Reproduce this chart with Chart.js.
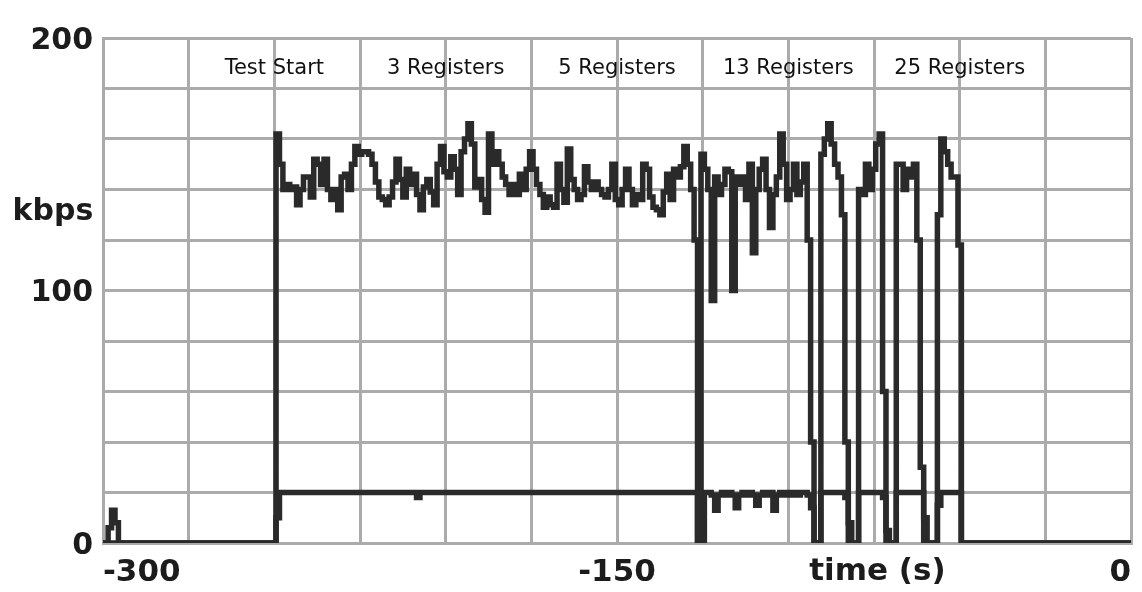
<!DOCTYPE html>
<html>
<head>
<meta charset="utf-8">
<script src="https://cdn.jsdelivr.net/npm/chart.js@4.4.1/dist/chart.umd.min.js"></script>
<style>
  body { margin: 0; background: #ffffff; }
  canvas { display: block; }
</style>
</head>
<body>
<canvas id="traceChart" width="1142" height="592"></canvas>
<script>
  // eixo x: segundos de -300 a 0 (um ponto por segundo)
  const segundos = Array.from({ length: 301 }, (_, i) => i - 300);

  // traco superior (kbps)
  const kbpsSuperior = [
    0, 0, 6, 13, 8, 0, 0, 0, 0, 0, 0, 0, 0, 0, 0, 0, 0, 0, 0, 0,
    0, 0, 0, 0, 0, 0, 0, 0, 0, 0, 0, 0, 0, 0, 0, 0, 0, 0, 0, 0,
    0, 0, 0, 0, 0, 0, 0, 0, 0, 0, 0,
    // -249 .. -188
    162, 150, 140, 142, 140, 141, 134, 140, 145, 145, 137, 152, 150, 142, 152, 140, 136, 140, 132, 145,
    146, 140, 150, 157, 154, 155, 155, 154, 150, 143, 137, 136, 134, 137, 143, 152, 144, 137, 148, 142,
    146, 138, 132, 141, 144, 139, 134, 150, 157, 147, 145, 153, 148, 138, 155, 160, 166, 158, 141, 144,
    136, 131,
    // -187 .. -128
    162, 150, 155, 150, 145, 142, 138, 142, 138, 146, 140, 148, 155, 148, 142, 138, 133, 137, 134, 133,
    150, 140, 135, 156, 144, 140, 136, 138, 149, 143, 140, 143, 140, 138, 137, 140, 150, 136, 134, 140,
    148, 140, 134, 138, 136, 150, 148, 137, 133, 132, 130, 139, 146, 136, 148, 145, 149, 157, 150, 140,
    // -127 .. -49
    120, 0, 154, 148, 140, 96, 145, 138, 142, 148, 147, 100, 145, 142, 145, 136, 150, 115, 140, 148,
    152, 140, 125, 138, 145, 162, 150, 136, 140, 150, 138, 143, 150, 120, 40, 0, 0, 154, 160, 166,
    158, 150, 145, 130, 40, 0, 0, 0, 140, 138, 150, 140, 148, 158, 162, 60, 0, 0, 0, 150,
    150, 140, 148, 145, 150, 120, 30, 0, 0, 0, 0, 130, 160, 155, 150, 145, 145, 118, 0,
    // -48 .. 0
    0, 0, 0, 0, 0, 0, 0, 0, 0, 0, 0, 0, 0, 0, 0, 0, 0, 0, 0, 0,
    0, 0, 0, 0, 0, 0, 0, 0, 0, 0, 0, 0, 0, 0, 0, 0, 0, 0, 0, 0,
    0, 0, 0, 0, 0, 0, 0, 0, 0
  ];

  // traco inferior (kbps)
  const kbpsInferior = [
    0, 0, 0, 0, 0, 0, 0, 0, 0, 0, 0, 0, 0, 0, 0, 0, 0, 0, 0, 0,
    0, 0, 0, 0, 0, 0, 0, 0, 0, 0, 0, 0, 0, 0, 0, 0, 0, 0, 0, 0,
    0, 0, 0, 0, 0, 0, 0, 0, 0, 0, 0,
    // -249
    10,
    // -248 .. -127
    20, 20, 20, 20, 20, 20, 20, 20, 20, 20, 20, 20, 20, 20, 20, 20, 20, 20, 20, 20,
    20, 20, 20, 20, 20, 20, 20, 20, 20, 20, 20, 20, 20, 20, 20, 20, 20, 20, 20, 20,
    18, 20, 20, 20, 20, 20, 20, 20, 20, 20, 20, 20, 20, 20, 20, 20, 20, 20, 20, 20,
    20, 20, 20, 20, 20, 20, 20, 20, 20, 20, 20, 20, 20, 20, 20, 20, 20, 20, 20, 20,
    20, 20, 20, 20, 20, 20, 20, 20, 20, 20, 20, 20, 20, 20, 20, 20, 20, 20, 20, 20,
    20, 20, 20, 20, 20, 20, 20, 20, 20, 20, 20, 20, 20, 20, 20, 20, 20, 20, 20, 20,
    20, 20,
    // -126 .. -125
    0, 0,
    // -124 .. -49
    20, 20, 19, 13, 19, 20, 19, 20, 19, 14, 19, 20, 19, 20, 19, 15, 19, 20, 19, 20,
    13, 19, 20, 19, 20, 19, 20, 19, 20, 20, 19, 14, 0, 0, 20, 20, 20, 20, 20, 20,
    20, 18, 8, 0, 0, 20, 20, 20, 20, 20, 20, 20, 18, 5, 0, 0, 20, 20, 20, 20,
    20, 20, 20, 20, 10, 0, 0, 0, 15, 20, 20, 20, 20, 20, 20, 0,
    // -48 .. 0
    0, 0, 0, 0, 0, 0, 0, 0, 0, 0, 0, 0, 0, 0, 0, 0, 0, 0, 0, 0,
    0, 0, 0, 0, 0, 0, 0, 0, 0, 0, 0, 0, 0, 0, 0, 0, 0, 0, 0, 0,
    0, 0, 0, 0, 0, 0, 0, 0, 0
  ];

  // rotulos das fases do teste
  const fases = ['Test Start', '3 Registers', '5 Registers', '13 Registers', '25 Registers'];
  const fasesTempo = [-250, -200, -150, -100, -50];
  const fasesNivel = 188;

  const rotulosX = [-300, -150, 0];
  const rotulosY = [0, 100, 200];

  const corTraco = '#2a2a2a';
  const corGrade = '#ababab';

  /* textos extras: fases, kbps e time (s) */
  const textosPlugin = {
    id: 'textos',
    afterDraw(chart) {
      const { ctx, scales } = chart;
      const x = scales.x, y = scales.y;
      ctx.save();
      ctx.fillStyle = '#111';
      ctx.textAlign = 'center';
      ctx.textBaseline = 'middle';
      ctx.font = '21px "DejaVu Sans"';
      fases.forEach((txt, i) => {
        ctx.fillText(txt, x.getPixelForValue(fasesTempo[i]), y.getPixelForValue(fasesNivel));
      });

      ctx.fillStyle = '#1c1c1c';
      ctx.font = 'bold 30px "DejaVu Sans"';
      ctx.textAlign = 'center';
      ctx.fillText('kbps', 53, y.getPixelForValue(131));
      ctx.font = 'bold 31px "DejaVu Sans"';
      ctx.fillText('time (s)', x.getPixelForValue(-74), 572);
      ctx.restore();
    }
  };

  document.addEventListener('DOMContentLoaded', () => {
    const ctx = document.getElementById('traceChart').getContext('2d');

    new Chart(ctx, {
      type: 'line',
      data: {
        datasets: [{
            label: 'superior',
            data: segundos.map((t, i) => ({ x: t, y: kbpsSuperior[i] })),
            borderColor: corTraco,
            borderWidth: 5.5,
            stepped: 'middle',
            pointRadius: 0
          },
          {
            label: 'inferior',
            data: segundos.map((t, i) => ({ x: t, y: kbpsInferior[i] })),
            borderColor: corTraco,
            borderWidth: 5.5,
            stepped: 'middle',
            pointRadius: 0
          }
        ]
      },
      options: {
        responsive: false,
        animation: false,
        layout: {
          padding: { top: 38, right: 9, left: 0, bottom: 0 }
        },
        plugins: {
          legend: { display: false },
          tooltip: { enabled: false }
        },
        scales: {
          x: {
            type: 'linear',
            min: -300,
            max: 0,
            afterFit: scale => { scale.height = 49; },
            grid: { color: corGrade, lineWidth: 3, drawTicks: false },
            border: { color: corGrade, width: 3 },
            ticks: {
              stepSize: 25,
              autoSkip: false,
              maxRotation: 0,
              align: 'inner',
              padding: 11,
              color: '#1c1c1c',
              font: { family: 'DejaVu Sans', weight: 'bold', size: 31 },
              callback: value => rotulosX.includes(value) ? String(value) : ''
            }
          },
          y: {
            min: 0,
            max: 200,
            afterFit: scale => { scale.width = 103; },
            grid: { color: corGrade, lineWidth: 3, drawTicks: false },
            border: { color: corGrade, width: 3 },
            ticks: {
              stepSize: 20,
              autoSkip: false,
              padding: 10,
              labelOffset: 3,
              color: '#1c1c1c',
              font: { family: 'DejaVu Sans', weight: 'bold', size: 30 },
              callback: value => rotulosY.includes(value) ? String(value) : ''
            }
          }
        }
      },
      plugins: [textosPlugin]
    });
  });
</script>
</body>
</html>
